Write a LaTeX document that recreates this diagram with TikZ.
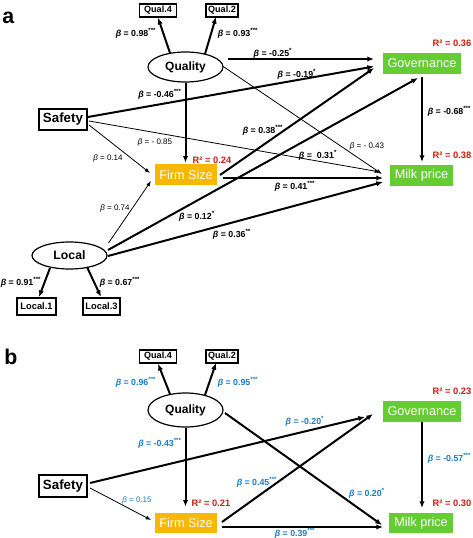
\documentclass[tikz,border=0pt]{standalone}
\usepackage{fontspec}
\setmainfont{Liberation Sans}
\usetikzlibrary{arrows.meta,calc,shapes.geometric}
\definecolor{gfill}{RGB}{102,204,51}
\definecolor{ofill}{RGB}{246,184,0}
\definecolor{rtxt}{RGB}{200,30,20}
\definecolor{btxt}{RGB}{25,125,195}
\newcommand\betaI{\textit{β}}
\newcommand\sstar[1]{\textsuperscript{#1}}
\begin{document}
\begin{tikzpicture}[x=0.75pt,y=-0.75pt,
  obsbox/.style={draw,line width=1.1pt,inner sep=0pt,font=\bfseries\fontsize{6.8}{7}\selectfont},
  safebox/.style={draw,line width=1.2pt,inner sep=0pt,minimum width=48*0.75pt,minimum height=21*0.75pt,font=\bfseries\fontsize{10}{11}\selectfont},
  latent/.style={ellipse,draw,line width=0.9pt,inner sep=0pt,minimum width=75*0.75pt,minimum height=30*0.75pt,font=\bfseries\fontsize{9}{10}\selectfont},
  gbox/.style={fill=gfill,inner sep=0pt,text=white,font=\fontsize{9.5}{10}\selectfont,minimum height=21*0.75pt},
  obox/.style={fill=ofill,inner sep=0pt,text=white,font=\fontsize{9.5}{10}\selectfont,minimum height=21*0.75pt},
  blab/.style={inner sep=0pt,font=\bfseries\fontsize{6.6}{7}\selectfont},
  tlab/.style={inner sep=0pt,font=\fontsize{6}{7}\selectfont},
  rlab/.style={inner sep=0pt,text=rtxt,font=\bfseries\fontsize{7}{8}\selectfont},
  panel/.style={inner sep=0pt,anchor=west,font=\bfseries\fontsize{16}{17}\selectfont},
  thk/.style={line width=1.5pt,-{Latex[length=5pt,width=4pt]}},
  thn/.style={line width=0.6pt,-{Latex[length=4pt,width=3pt]}},
]
\useasboundingbox (0,0) rectangle (473,538);

%%%%%%%%%%%%%%%% Panel a
\node[panel] (pa) at (2,18) {a};
\node[obsbox,minimum width=37*0.75pt,minimum height=13*0.75pt] (qa4) at (158,10.5) {Qual.4};
\node[obsbox,minimum width=32*0.75pt,minimum height=13*0.75pt] (qa2) at (222,10.5) {Qual.2};
\node[latent] (qual) at (185.5,67) {Quality};
\node[safebox] (safety) at (63,119.5) {Safety};
\node[gbox,minimum width=78*0.75pt] (gov) at (422,63.5) {Governance};
\node[gbox,minimum width=63*0.75pt] (milk) at (421.5,175.5) {Milk price};
\node[obox,minimum width=62*0.75pt] (firm) at (186,174.5) {Firm Size};
\node[latent,minimum height=27*0.75pt,font=\bfseries\fontsize{9.2}{10}\selectfont] (local) at (69.5,255.5) {Local};
\node[obsbox,minimum width=39*0.75pt,minimum height=17*0.75pt,font=\bfseries\fontsize{7}{8}\selectfont] (loc1) at (36.5,306.5) {Local.1};
\node[obsbox,minimum width=37*0.75pt,minimum height=17*0.75pt,font=\bfseries\fontsize{7}{8}\selectfont] (loc3) at (101.5,306.5) {Local.3};

\draw[thk] ($(qual.center)+(-15.5,-14)$) -- (qa4.south);
\draw[thk] ($(qual.center)+(19.5,-13)$) -- ($(qa2.center)+(-6,6.5)$);
\draw[thk] (qual.south) -- ($(qual.south |- firm.north)+(0,-1)$);
\draw[thk] ($(qual.center)+(42.5,-8)$) -- ($(gov.center)+(-48,-4.5)$);
\draw[thk] ($(safety.center)+(25,-2.5)$) -- ($(gov.center)+(-48,3)$);
\draw[thn] ($(safety.center)+(26,5.5)$) -- ($(firm.center)+(-36,-1.5)$);
\draw[thn] ($(safety.center)+(26,1.5)$) -- ($(milk.center)+(-41.5,-3.5)$);
\draw[thn] ($(qual.center)+(37,-1)$) -- ($(milk.center)+(-39.5,-1.5)$);
\draw[thk] ($(firm.center)+(34,0.5)$) -- ($(gov.center)+(-48,4.5)$);
\draw[thk] ($(firm.center)+(37,3.5)$) -- ($(milk.center)+(-38.5,2.5)$);
\draw[thn] ($(local.center)+(39,-12.5)$) -- ($(firm.center)+(-35,6.5)$);
\draw[thk] ($(local.center)+(38.5,-5.5)$) -- ($(gov.center)+(-4,14.5)$);
\draw[thk] ($(local.center)+(38.5,0.5)$) -- ($(milk.center)+(-38.5,6.5)$);
\draw[thk] ($(gov.center)+(0,13.5)$) -- ($(milk.center)+(0.5,-13.5)$);
\draw[thk] ($(local.center)+(-19.5,12.5)$) -- ($(loc1.center)+(2.5,-9.5)$);
\draw[thk] ($(local.center)+(17.5,11.5)$) -- ($(loc3.center)+(-0.5,-9.5)$);

\node[blab] (a1) at (136,33) {\betaI{} = 0.98\sstar{***}};
\node[blab] (a2) at (238,33) {\betaI{} = 0.93\sstar{***}};
\node[blab] (a3) at (273,53) {\betaI{} = -0.25\sstar{*}};
\node[blab] (a4) at (297,74) {\betaI{} = -0.19\sstar{*}};
\node[rlab] (ar1) at (452,43) {R² = 0.36};
\node[blab] (a5) at (160,94) {\betaI{} = -0.46\sstar{***}};
\node[blab] (a6) at (449.5,111) {\betaI{} = -0.68\sstar{***}};
\node[blab] (a7) at (263,130) {\betaI{} = 0.38\sstar{***}};
\node[tlab] (a8) at (155,142) {\betaI{} = - 0.85};
\node[tlab] (a9) at (108,158) {\betaI{} = 0.14};
\node[tlab] (a10) at (367,146) {\betaI{} = - 0.43};
\node[blab] (a11) at (318,155) {\betaI{} =\ \ 0.31\sstar{*}};
\node[rlab] (ar2) at (212,160) {R² = 0.24};
\node[rlab] (ar3) at (452,155) {R² = 0.38};
\node[blab] (a12) at (295,186) {\betaI{} = 0.41\sstar{***}};
\node[tlab] (a13) at (115,208) {\betaI{} = 0.74};
\node[blab] (a14) at (197,216) {\betaI{} = 0.12\sstar{*}};
\node[blab] (a15) at (232,234) {\betaI{} = 0.36\sstar{**}};
\node[blab,anchor=west] (a16) at (0.5,282) {\betaI{} = 0.91\sstar{***}};
\node[blab] (a17) at (120,282) {\betaI{} = 0.67\sstar{***}};

%%%%%%%%%%%%%%%% Panel b
\node[panel] (pb) at (4,357) {b};
\node[obsbox,minimum width=37*0.75pt,minimum height=13*0.75pt] (qb4) at (158,356.5) {Qual.4};
\node[obsbox,minimum width=32*0.75pt,minimum height=13*0.75pt] (qb2) at (222,356.5) {Qual.2};
\node[latent,minimum height=34*0.75pt] (qualb) at (185.5,410) {Quality};
\node[safebox,minimum height=22*0.75pt] (safetyb) at (63,486) {Safety};
\node[gbox,minimum width=78*0.75pt] (govb) at (422,411.5) {Governance};
\node[obox,minimum width=62*0.75pt,minimum height=20*0.75pt] (firmb) at (186,523) {Firm Size};
\node[gbox,minimum width=64*0.75pt,minimum height=20*0.75pt] (milkb) at (421,523) {Milk price};

\draw[thk] ($(qualb.center)+(-15.5,-16)$) -- (qb4.south);
\draw[thk] ($(qualb.center)+(19.5,-15)$) -- ($(qb2.center)+(-6,6.5)$);
\draw[thk] (qualb.south) -- ($(qualb.south |- firmb.north)+(0,-6)$);
\draw[thk] ($(qualb.center)+(39.5,3)$) -- ($(milkb.center)+(-39,2)$);
\draw[thk] ($(safetyb.center)+(27,-3)$) -- ($(govb.center)+(-57,5.5)$);
\draw[thn] ($(safetyb.center)+(27,2)$) -- ($(firmb.center)+(-35,-3)$);
\draw[thk] ($(firmb.center)+(36,-1)$) -- ($(govb.center)+(-49,2.5)$);
\draw[thk] ($(firmb.center)+(36,4)$) -- ($(milkb.center)+(-38,4)$);
\draw[thk,line width=1.1pt] ($(govb.center)+(0,10.5)$) -- ($(milkb.center)+(1,-15)$);

\node[blab,text=btxt] (b1) at (136,382) {\betaI{} = 0.96\sstar{***}};
\node[blab,text=btxt] (b2) at (238,382) {\betaI{} = 0.95\sstar{***}};
\node[rlab] (br1) at (452,391) {R² = 0.23};
\node[blab,text=btxt] (b3) at (305,421) {\betaI{} = -0.20\sstar{*}};
\node[blab,text=btxt] (b4) at (160,443) {\betaI{} = -0.43\sstar{***}};
\node[blab,text=btxt] (b5) at (449.5,458) {\betaI{} = -0.57\sstar{***}};
\node[blab,text=btxt] (b6) at (257,482) {\betaI{} = 0.45\sstar{***}};
\node[blab,text=btxt] (b7) at (367,493) {\betaI{} = 0.20\sstar{*}};
\node[tlab,text=btxt] (b8) at (137,500) {\betaI{} = 0.15};
\node[rlab] (br2) at (211,503) {R² = 0.21};
\node[rlab] (br3) at (452,503) {R² = 0.30};
\node[blab,text=btxt] (b9) at (295,533) {\betaI{} = 0.39\sstar{***}};
\end{tikzpicture}
\end{document}
